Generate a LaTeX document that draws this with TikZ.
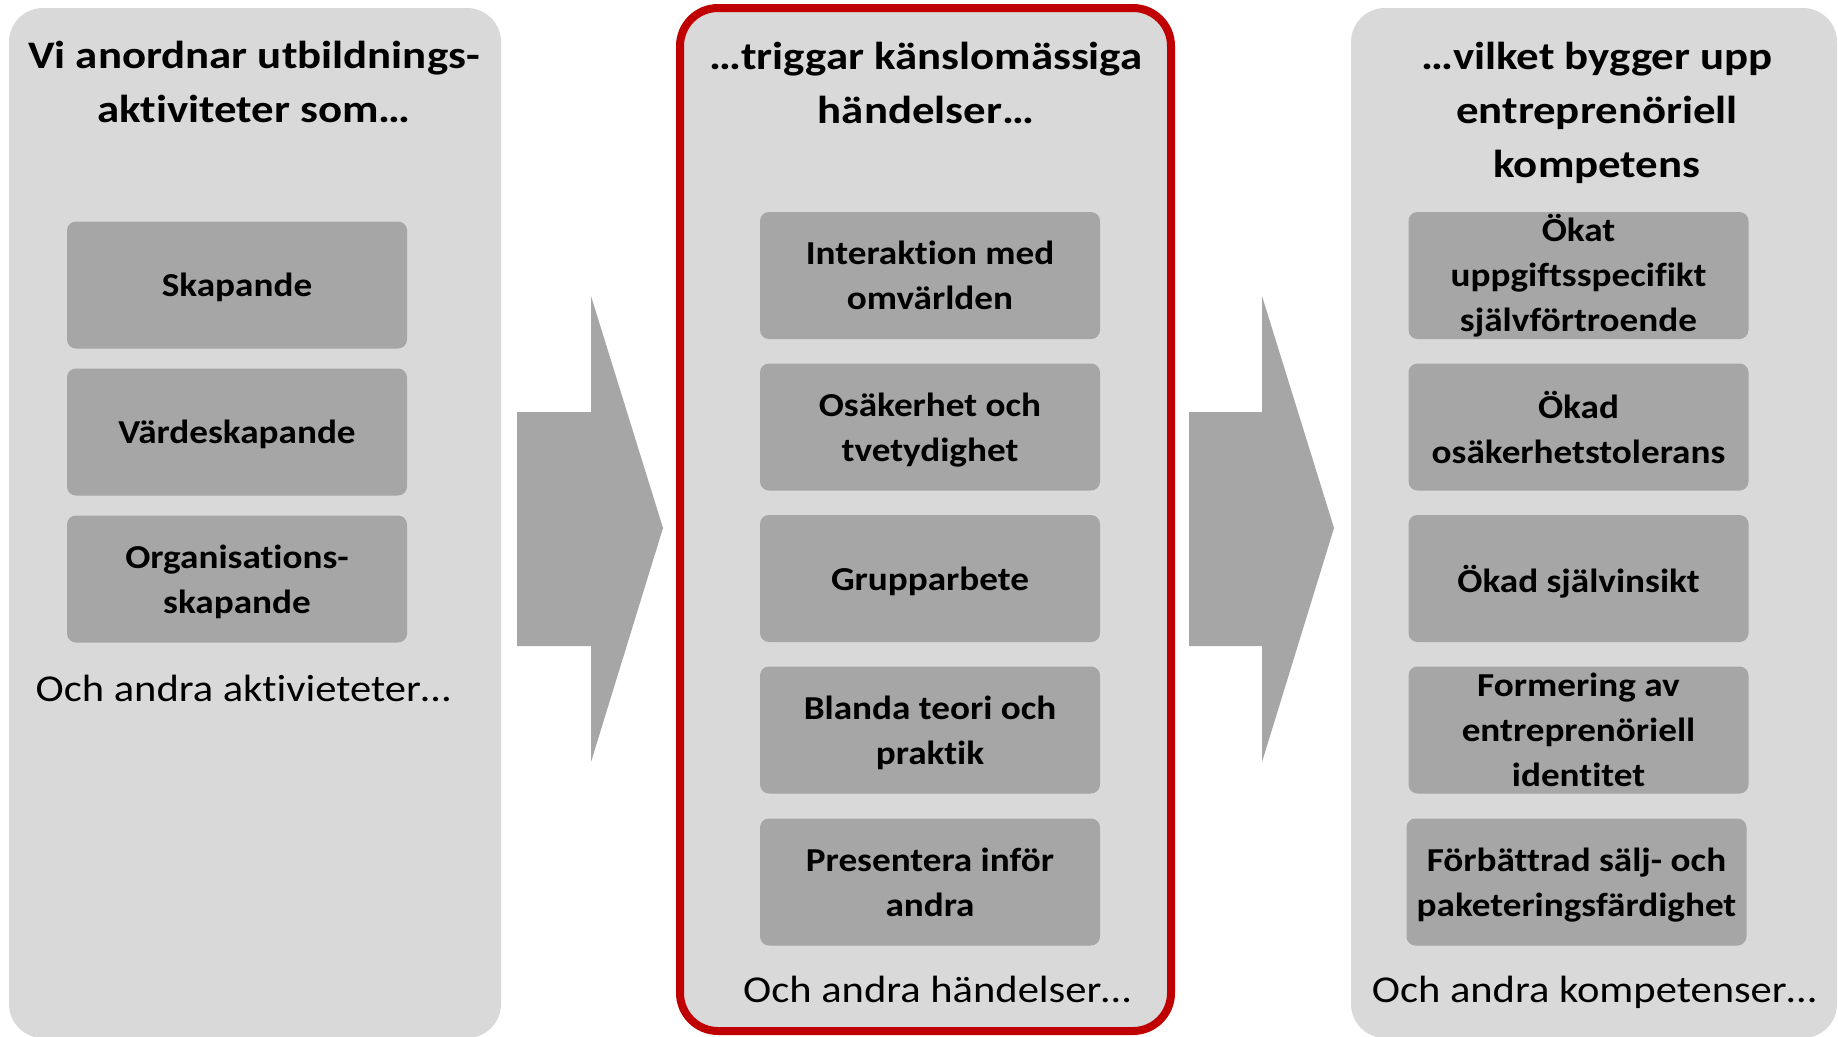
\documentclass[tikz,border=0pt]{standalone}
\usepackage{fontspec}
\setmainfont{Carlito}[Ligatures=NoCommon]
\newfontfamily\ttlfont{Carlito}[FakeStretch=1.15,Ligatures=NoCommon]
\newfontfamily\itemfont{Carlito}[FakeStretch=1.11,Ligatures=NoCommon]
\newfontfamily\morefont{Carlito}[FakeStretch=1.12,Ligatures=NoCommon]
\definecolor{panelg}{HTML}{D9D9D9}
\definecolor{boxg}{HTML}{A6A6A6}
\definecolor{redb}{HTML}{C00000}
\begin{document}
\begin{tikzpicture}[x=1pt,y=-1pt,
  panelbox/.style={fill=panelg, rounded corners=34pt},
  item/.style={fill=boxg, rounded corners=9pt, inner sep=0pt, minimum height=127pt, minimum width=340pt, align=center, text depth=0pt, font=\itemfont\bfseries\fontsize{33.5}{45}\selectfont},
  ttl/.style={align=center, inner sep=0pt, font=\ttlfont\bfseries\fontsize{39}{54}\selectfont},
  more/.style={inner sep=0pt, anchor=base, font=\morefont\fontsize{38}{46}\selectfont},
  bigarrow/.style={fill=boxg}]
\useasboundingbox (0,0) rectangle (1838,1036);
% panels
\path[panelbox] (9,8) rectangle (501,1038);
\draw[panelbox, draw=redb, line width=8pt, rounded corners=38pt] (680,8) rectangle (1171,1031);
\path[panelbox] (1351,8) rectangle (1837,1038);
% arrows
\fill[bigarrow] (517,412) -- (591,412) -- (591,296) -- (663,528) -- (591,762) -- (591,646) -- (517,646) -- cycle;
\fill[bigarrow] (1189,412) -- (1262,412) -- (1262,296) -- (1334,528) -- (1262,762) -- (1262,646) -- (1189,646) -- cycle;
% titles
\node[ttl] (t1) at (254,82) {Vi anordnar utbildnings-\\aktiviteter som…};
\node[ttl] (t2) at (926,83) {…triggar känslomässiga\\händelser…};
\node[ttl] (t3) at (1597,113) {…vilket bygger upp\\entreprenöriell\\kompetens};
% left boxes
\node[item] (a1) at (237,285) {Skapande};
\node[item] (a2) at (237,432) {Värdeskapande};
\node[item] (a3) at (237,579) {Organisations-\\skapande};
\node[more] (am) at (243,701) {Och andra aktivieteter…};
% middle boxes
\node[item] (b1) at (930,275.5) {Interaktion med\\omvärlden};
\node[item] (b2) at (930,427) {Osäkerhet och\\tvetydighet};
\node[item] (b3) at (930,578.5) {Grupparbete};
\node[item] (b4) at (930,730) {Blanda teori och\\praktik};
\node[item] (b5) at (930,882) {Presentera inför\\andra};
\node[more] (bm) at (937,1002) {Och andra händelser…};
% right boxes
\node[item, text depth=] (c1) at (1578.5,275.5) {Ökat\\uppgiftsspecifikt\\självförtroende};
\node[item] (c2) at (1578.5,427) {Ökad\\osäkerhetstolerans};
\node[item] (c3) at (1578.5,578.5) {Ökad självinsikt};
\node[item] (c4) at (1578.5,730) {Formering av\\entreprenöriell\\identitet};
\node[item] (c5) at (1576.5,882) {Förbättrad sälj- och\\paketeringsfärdighet};
\node[more] (cm) at (1594,1002) {Och andra kompetenser…};
\end{tikzpicture}
\end{document}
